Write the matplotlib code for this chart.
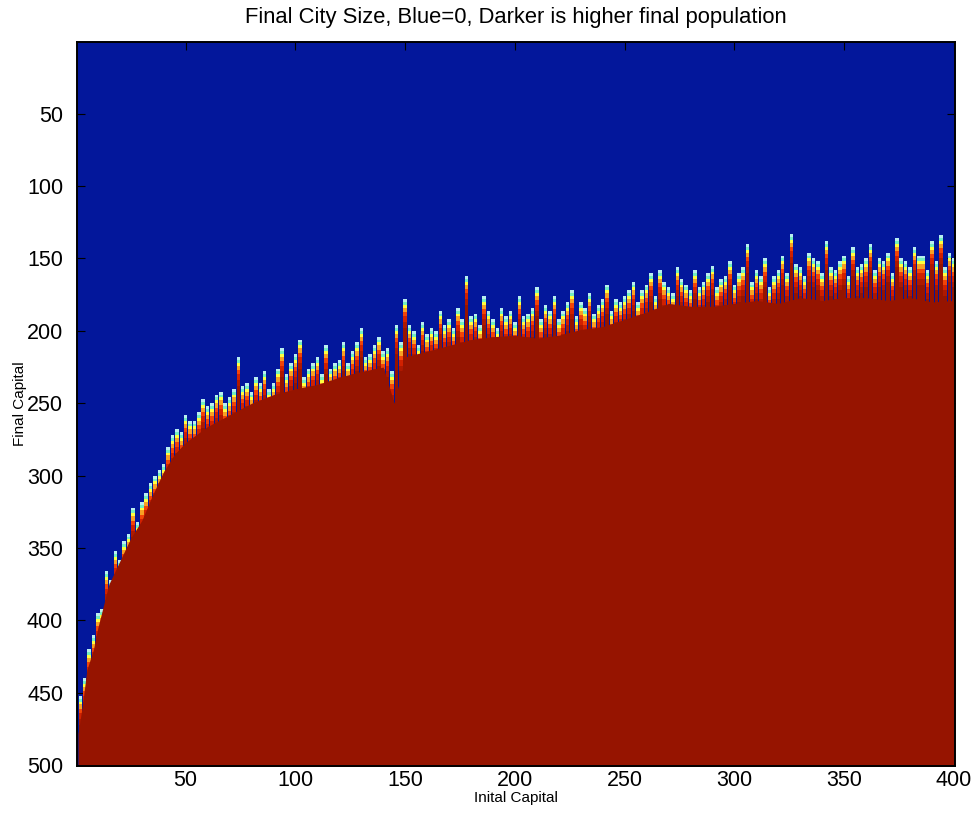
import numpy as np
import matplotlib
matplotlib.use("Agg")
from matplotlib import pyplot as plt
from matplotlib.colors import LinearSegmentedColormap

plt.rcParams["font.family"] = ["Liberation Sans", "DejaVu Sans"]

# solid red body: top edge (Final Capital) at sampled Initial Capital values
edge_x = [1, 3, 5, 8, 10, 12, 15, 20, 25, 30, 35, 40, 45, 50, 60, 70, 80, 90, 100,
          110, 120, 130, 140, 145, 150, 160, 170, 180, 190, 200, 210, 220, 230, 240,
          250, 260, 270, 280, 290, 300, 310, 320, 330, 340, 350, 360, 370, 380, 390, 400]
edge_y = [478, 458, 434, 420, 405, 393, 375, 359, 343, 331, 313, 297, 285, 277, 266,
          258, 250, 244, 240, 237, 232, 228, 225, 250, 218, 214, 210, 206, 204, 203,
          205, 203, 199, 197, 192, 187, 181, 183, 183, 181, 179, 181, 177, 179, 177,
          177, 179, 177, 180, 179]

# tall spike tips, one every 4 columns (x = 2, 6, ..., 398)
spike_x = list(range(2, 401, 4))
spike_top = [452, 420, 395, 366, 352, 345, 322, 318, 305, 296,
             280, 268, 258, 262, 247, 250, 242, 246, 218, 236,
             232, 228, 236, 212, 222, 206, 226, 218, 210, 222,
             208, 214, 198, 216, 204, 212, 196, 178, 200, 194,
             198, 186, 192, 184, 162, 188, 176, 192, 184, 186,
             176, 188, 170, 182, 176, 186, 172, 180, 174, 182,
             168, 178, 176, 166, 172, 160, 158, 170, 156, 168,
             158, 166, 155, 164, 152, 160, 140, 158, 150, 162,
             148, 133, 156, 146, 152, 138, 158, 148, 142, 154,
             140, 150, 146, 136, 152, 142, 148, 138, 134, 146]

# shorter spikes in between (x = 4, 8, ..., 400)
spike2_x = list(range(4, 401, 4))
spike2_top = [440, 410, 392, 372, 358, 340, 332, 312, 300, 292,
              272, 270, 262, 256, 252, 244, 250, 240, 238, 242,
              236, 240, 226, 230, 216, 232, 222, 230, 226, 220,
              222, 208, 218, 210, 214, 228, 208, 196, 210, 202,
              200, 196, 198, 192, 190, 196, 186, 198, 190, 194,
              190, 184, 192, 186, 192, 180, 190, 184, 188, 178,
              186, 180, 172, 180, 168, 176, 166, 174, 164, 172,
              170, 160, 170, 162, 168, 156, 166, 162, 170, 158,
              160, 154, 162, 150, 160, 156, 152, 162, 156, 150,
              158, 152, 160, 150, 156, 148, 158, 152, 156, 150]

cmap = LinearSegmentedColormap.from_list(
    "jetish",
    [(0.0, "#03179b"), (0.12, "#1030ff"), (0.37, "#30e8ff"),
     (0.62, "#ffff40"), (0.85, "#f02800"), (1.0, "#961400")])

fig = plt.figure(figsize=(9.76, 8.22), dpi=100)
ax = fig.add_axes([0.0789, 0.0681, 0.8996, 0.8808])
ax.set_facecolor(cmap(0.0))

# gradient spikes: pale tip, short yellow/orange, then red
depth = [0, 2, 4, 6, 9, 12, 16, 20]
colors = ["#b8eef0", cmap(0.45), cmap(0.62), cmap(0.72), cmap(0.82),
          cmap(0.9), cmap(0.96)]


def spikes(xs, tops, w):
    tops = np.array(tops, dtype=float)
    for i in range(len(colors)):
        ax.bar(xs, depth[i + 1] - depth[i], bottom=tops + depth[i], width=w,
               color=colors[i], linewidth=0, zorder=2)
    ax.bar(xs, 120, bottom=tops + depth[-1], width=w, color=cmap(1.0),
           linewidth=0, zorder=2)


spikes(spike2_x, spike2_top, 1.6)
spikes(spike_x, spike_top, 1.6)

# solid body
ax.fill_between(edge_x, edge_y, 501, color=cmap(1.0), linewidth=0, zorder=4)

ax.set_xlim(0.5, 400.5)
ax.set_ylim(500.5, 0.5)
ax.set_xticks(range(50, 401, 50))
ax.set_yticks(range(50, 501, 50))
ax.tick_params(direction="in", length=6, labelsize=15.5, top=True, right=True,
               labeltop=False, labelright=False)
ax.tick_params(axis="y", pad=10)
ax.tick_params(axis="x", pad=3)
for s in ax.spines.values():
    s.set_linewidth(1.4)
    s.set_zorder(10)

ax.set_title("Final City Size, Blue=0, Darker is higher final population",
             fontsize=15.8, pad=14)
ax.set_xlabel("Inital Capital", fontsize=11, labelpad=0)
ax.set_ylabel("Final Capital", fontsize=11)
ax.yaxis.set_label_coords(-0.057, 0.5)

fig.savefig("out.png", dpi=100)
